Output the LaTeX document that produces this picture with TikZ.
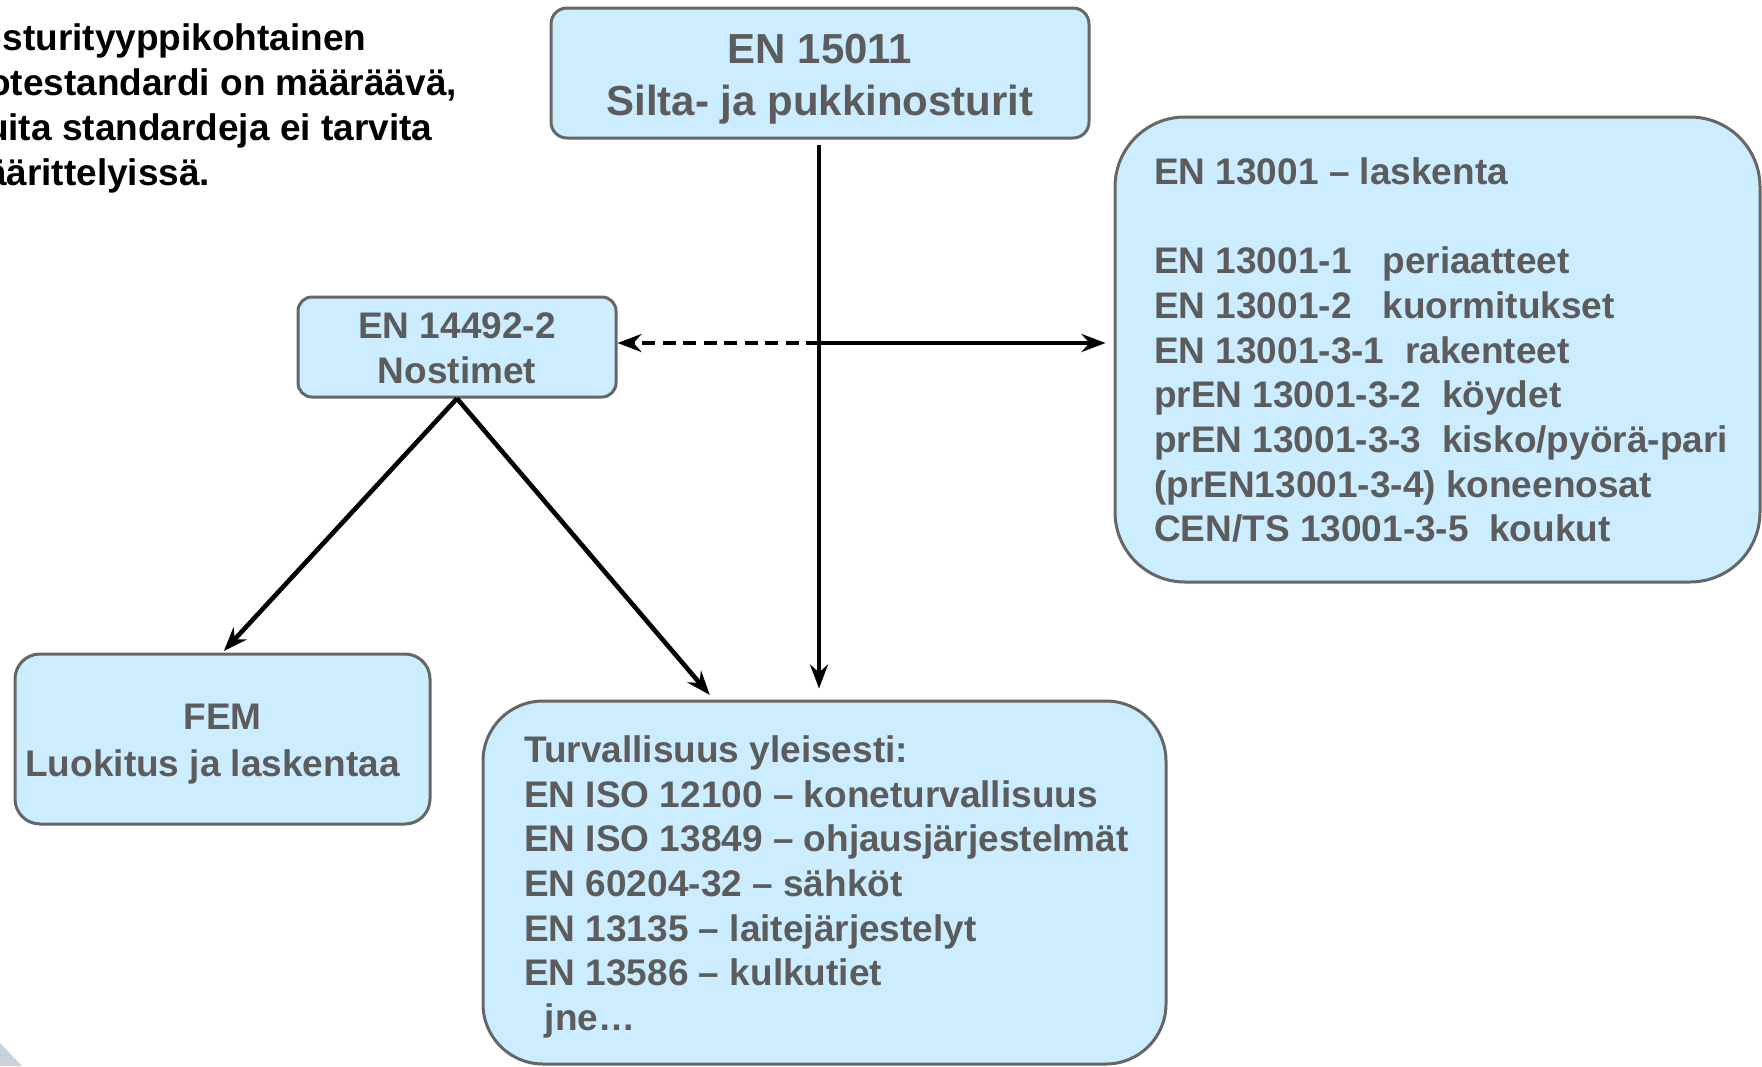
\documentclass[tikz,border=0pt]{standalone}
\usepackage{fontspec}
\setmainfont{Liberation Sans}
\usetikzlibrary{arrows.meta,calc}
\definecolor{boxfill}{HTML}{CCECFF}
\definecolor{boxline}{HTML}{666666}
\definecolor{txtgrey}{HTML}{5C5C5C}
\definecolor{deco}{HTML}{C9D2D9}
\begin{document}
\begin{tikzpicture}[x=1pt,y=-1pt,
  boxstyle/.style={draw=boxline, line width=3pt, fill=boxfill, inner sep=0pt},
  centertext/.style={text=txtgrey, inner sep=0pt, align=center},
  bodytext/.style={text=txtgrey, font=\bfseries\fontsize{37}{44.7}\selectfont, inner sep=0pt, align=left},
  arr/.style={line width=4.6pt, -{Stealth[length=24pt,width=18pt,inset=8pt]}}]
\useasboundingbox (0,0) rectangle (1762,1066);

% decoration in the corner
\fill[deco] (0,1043) -- (22,1066) -- (0,1066) -- cycle;

% note at top left (clipped by the page edge, as in the reference)
\begin{scope}
\clip (0,0) rectangle (1762,1066);
\node[anchor=west, align=left, inner sep=0pt, font=\bfseries\fontsize{37}{45}\selectfont] (note) at (-47,108)
  {Nosturityyppikohtainen\\tuotestandardi on määräävä,\\muita standardeja ei tarvita\\määrittelyissä.};
\end{scope}

% boxes
\node[boxstyle, rounded corners=16pt, minimum width=538pt, minimum height=130pt] (top) at (820,73) {};
\node[centertext, font=\bfseries\fontsize{42}{52}\selectfont] (toptxt) at (820,79)
  {EN 15011\\Silta- ja pukkinosturit};

\node[boxstyle, rounded corners=14pt, minimum width=318pt, minimum height=100pt] (hoist) at (457,347) {};
\node[centertext, font=\bfseries\fontsize{37}{45}\selectfont] (hoisttxt) at (457,348)
  {EN 14492-2\\Nostimet};

\node[boxstyle, rounded corners=25pt, minimum width=415pt, minimum height=170pt] (fem) at (222.5,739) {};
\node[centertext, font=\bfseries\fontsize{37}{47}\selectfont] (femtxt) at (222.5,744)
  {FEM\\Luokitus ja laskentaa\hspace*{20pt}};

\node[boxstyle, rounded corners=70pt, minimum width=645pt, minimum height=465pt] (rbox) at (1437.5,349.5) {};
\node[bodytext, anchor=west] (rtxt) at (1154,350)
  {EN 13001 – laskenta\\
   ~\\
   EN 13001-1\ \ \ periaatteet\\
   EN 13001-2\ \ \ kuormitukset\\
   EN 13001-3-1\ \ rakenteet\\
   prEN 13001-3-2\ \ köydet\\
   prEN 13001-3-3\ \ kisko/pyörä-pari\\
   (prEN13001-3-4) koneenosat\\
   CEN/TS 13001-3-5\ \ koukut};

\node[boxstyle, rounded corners=60pt, minimum width=683pt, minimum height=363pt] (bot) at (824.5,882.5) {};
\node[bodytext, anchor=west] (btxt) at (524,887)
  {Turvallisuus yleisesti:\\
   EN ISO 12100 – koneturvallisuus\\
   EN ISO 13849 – ohjausjärjestelmät\\
   EN 60204-32 – sähköt\\
   EN 13135 – laitejärjestelyt\\
   EN 13586 – kulkutiet\\
   \ \ jne…};

% connectors
\coordinate (j) at (819,343);
\coordinate (bt) at (715,701);
\draw[arr, shorten <=5pt, shorten >=11pt] (top.south -| j) -- (bot.north -| j);
\draw[arr, shorten >=8pt] (j) -- (rbox.west |- j);
\draw[arr, dash pattern=on 13pt off 7.5pt] (j) -- (hoist.east |- j);
\draw[arr, shorten >=2pt] (hoist.south) -- (fem.north);
\draw[arr, shorten >=8pt] (hoist.south) -- (bt);
\end{tikzpicture}
\end{document}
